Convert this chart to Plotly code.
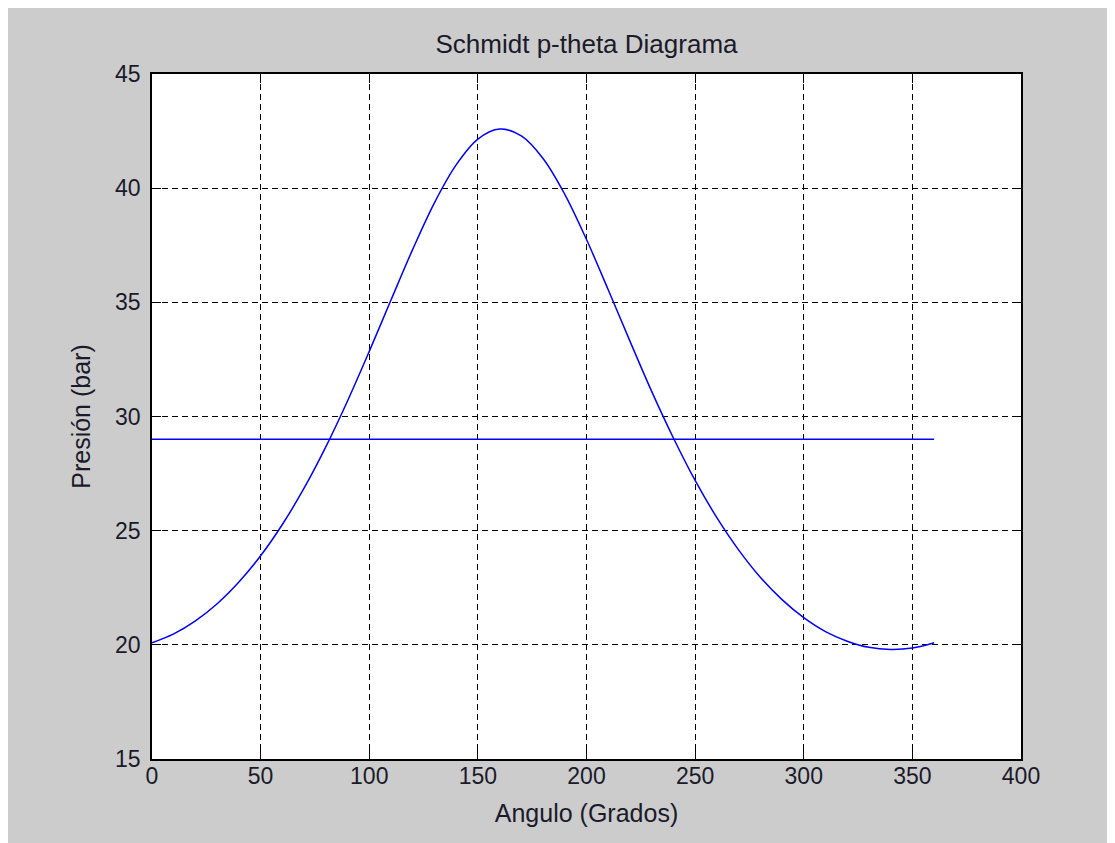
import plotly.graph_objects as go

angulo = [0, 10, 20, 30, 40, 50, 60, 70, 80, 90, 100, 110, 120, 130, 140, 150, 160, 170, 180,
          190, 200, 210, 220, 230, 240, 250, 260, 270, 280, 290, 300, 310, 320, 330, 340, 350, 360]
presion = [20.09, 20.48, 21.05, 21.80, 22.75, 23.90, 25.27, 26.86, 28.67, 30.68, 32.85, 35.10,
           37.32, 39.36, 41.02, 42.15, 42.59, 42.29, 41.30, 39.73, 37.75, 35.55, 33.30, 31.10,
           29.06, 27.20, 25.57, 24.16, 22.96, 21.98, 21.19, 20.58, 20.16, 19.89, 19.80, 19.86, 20.09]
angulo_medio = [0, 360]
presion_media = [29.0, 29.0]

x_ticks = [0, 50, 100, 150, 200, 250, 300, 350, 400]
y_ticks = [15, 20, 25, 30, 35, 40, 45]

fig = go.Figure()

fig.add_trace(go.Scatter(
    x=angulo, y=presion, mode='lines',
    line=dict(color='#0000ff', width=1.5, shape='spline'),
    showlegend=False
))

fig.add_trace(go.Scatter(
    x=angulo_medio, y=presion_media, mode='lines',
    line=dict(color='#0000ff', width=1.5),
    showlegend=False
))

axis_style = dict(
    showline=True, linecolor='black', linewidth=1.5, mirror='allticks',
    ticks='inside', ticklen=9, tickcolor='black', tickwidth=1,
    showgrid=True, gridcolor='black', gridwidth=1.3, griddash='6px,4px',
    zeroline=False, tickfont=dict(size=23, color='#1a1a2a'),
)

fig.update_xaxes(range=[0, 400], tickvals=x_ticks, ticklabelstandoff=-4,
                 title=dict(text='Angulo (Grados)', font=dict(size=25, color='#1a1a2a'), standoff=16),
                 **axis_style)
fig.update_yaxes(range=[15, 45], tickvals=y_ticks, ticklabelstandoff=5,
                 title=dict(text='Presión (bar)', font=dict(size=25, color='#1a1a2a'), standoff=17),
                 **axis_style)

fig.update_layout(
    width=1115, height=843,
    margin=dict(l=144, r=102, t=66, b=92),
    paper_bgcolor='#cccccc', plot_bgcolor='white',
    font=dict(family='Liberation Sans, Arial, sans-serif', color='#1a1a2a'),
    title=dict(text='Schmidt p-theta Diagrama', x=0.5, xanchor='center',
               xref='paper', y=1, yref='paper', yanchor='bottom', pad=dict(b=21),
               font=dict(size=26, color='#1a1a2a')),
)

fig.write_html("out.html")
